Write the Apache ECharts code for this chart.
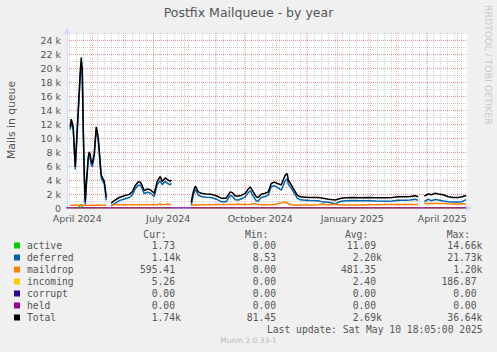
<!DOCTYPE html>
<html>
<head>
<meta charset="utf-8">
<script src="https://cdn.jsdelivr.net/npm/echarts@6/dist/echarts.min.js"></script>
<style>
html,body{margin:0;padding:0;background:#F0F0F0;}
#c{width:497px;height:352px;}
</style>
</head>
<body>
<div id="c"></div>
<script>
// ---------------- DATA ----------------
const dates = ['2024-04-06',
 '2024-04-09','2024-04-10','2024-04-11','2024-04-12','2024-04-13','2024-04-14','2024-04-17','2024-04-19','2024-04-20','2024-04-21',
 '2024-04-22','2024-04-23','2024-04-24','2024-04-25','2024-04-27','2024-04-28','2024-04-29','2024-04-30','2024-05-01','2024-05-03',
 '2024-05-05','2024-05-06','2024-05-07','2024-05-08','2024-05-09','2024-05-10','2024-05-12','2024-05-13','2024-05-14','2024-05-15',
 '2024-05-17',
 '2024-05-20','2024-05-23','2024-05-28','2024-06-02','2024-06-07','2024-06-10','2024-06-13','2024-06-16','2024-06-18','2024-06-19',
 '2024-06-22','2024-06-25','2024-06-28','2024-07-02','2024-07-05','2024-07-08','2024-07-10','2024-07-13','2024-07-15','2024-07-18',
 '2024-07-19',
 '2024-07-25',
 '2024-08-08','2024-08-10','2024-08-12','2024-08-13','2024-08-15','2024-08-18','2024-08-23','2024-08-28','2024-09-02','2024-09-07',
 '2024-09-12','2024-09-16','2024-09-18','2024-09-21','2024-09-24','2024-09-27','2024-10-01','2024-10-04','2024-10-06','2024-10-09',
 '2024-10-12','2024-10-14','2024-10-17','2024-10-21','2024-10-24','2024-10-27','2024-10-30','2024-11-02','2024-11-06','2024-11-10',
 '2024-11-12','2024-11-13','2024-11-16','2024-11-18','2024-11-22','2024-11-25','2024-11-30','2024-12-05','2024-12-13','2024-12-18',
 '2024-12-23','2024-12-30','2025-01-05','2025-01-10','2025-01-16','2025-01-24','2025-02-01','2025-02-09','2025-02-18','2025-02-25',
 '2025-03-03','2025-03-10','2025-03-15','2025-03-20','2025-03-23',
 '2025-03-26',
 '2025-03-29','2025-04-02','2025-04-05','2025-04-09','2025-04-12','2025-04-17','2025-04-22','2025-04-27','2025-05-02','2025-05-06',
 '2025-05-09','2025-05-10'];

const total = [null,
 11600,12700,12200,11500,8700,5900,14000,19500,21500,19800,
 11500,5000,900,3400,7300,8000,7600,6600,6300,7800,
 11600,11000,10000,8300,6400,4700,4100,3800,2800,1500,
 null,
 700,1050,1500,1750,1950,2300,3200,3700,3700,3500,
 2500,2700,2600,2100,3800,4500,3800,4300,4100,3800,
 4000,
 null,
 800,2300,3100,2900,2300,2100,2000,1950,1750,1400,
 1400,2300,2200,1700,1700,1800,2100,2700,3000,2300,
 1600,1500,1950,2100,2300,3500,3700,3500,3300,4700,
 4900,4000,3300,2800,1850,1600,1550,1500,1500,1400,
 1250,1150,1400,1450,1500,1450,1500,1450,1450,1500,
 1600,1600,1650,1750,1600,
 null,
 1700,2000,1900,2100,2000,1900,1600,1500,1500,1600,
 1750,1740];

const deferred = [null,
 11200,12300,11800,11100,8300,5500,13600,18750,20600,19200,
 11100,4600,500,3000,6900,7600,7200,6200,5900,7350,
 11200,10600,9600,7900,6000,4300,3700,3400,2400,1100,
 null,
 290,600,1050,1290,1500,1850,2750,3240,3250,3050,
 2050,2250,2140,1650,3340,3890,3340,3810,3540,3310,
 3540,
 null,
 360,1840,2660,2460,1860,1640,1540,1490,1260,910,
 910,1790,1690,1190,1140,1290,1590,2190,2470,1690,
 1010,990,1490,1640,1840,3040,3190,2940,2540,3890,
 4190,3390,2840,2370,1420,1170,1120,1070,1040,840,
 820,620,970,1020,1070,1020,1040,990,960,1010,
 1090,1090,1140,1240,1090,
 null,
 900,1250,1050,1200,1150,1000,900,850,850,900,
 1150,1140];

const maildrop = [null,
 400,410,400,400,390,390,400,400,390,400,
 400,390,400,400,390,400,400,400,400,400,
 400,400,400,400,400,400,400,400,400,400,
 null,
 410,450,450,460,450,450,450,460,450,450,
 450,450,460,450,460,600,460,490,560,490,
 460,
 null,
 440,460,440,440,440,460,460,460,490,490,
 490,510,510,510,560,510,510,510,530,610,
 590,510,460,460,460,460,510,560,760,810,
 710,610,460,430,430,430,430,430,460,560,
 430,530,430,430,430,430,460,460,490,490,
 510,510,510,510,510,
 null,
 650,650,650,650,650,650,600,580,580,600,
 590,595];

const active = [null,
 0,0,0,0,0,0,0,350,500,200,
 0,0,0,0,0,0,0,0,0,50,
 0,0,0,0,0,0,0,0,0,0,
 null,
 0,0,0,0,0,0,0,0,0,0,
 0,0,0,0,0,0,0,0,0,0,
 0,
 null,
 0,0,0,0,0,0,0,0,0,0,
 0,0,0,0,0,0,0,0,0,0,
 0,0,0,0,0,0,0,0,0,0,
 0,0,0,0,0,0,0,0,0,0,
 0,0,0,0,0,0,0,0,0,0,
 0,0,0,0,0,
 null,
 0,0,0,0,0,0,0,0,0,0,
 0,2];

const incoming = [null,
 0,0,0,0,0,0,0,0,0,0,
 0,0,0,0,0,0,0,0,0,0,
 0,0,0,0,0,0,0,0,0,0,
 null,
 0,0,0,0,0,0,0,0,0,0,
 0,0,0,0,0,0,0,0,0,0,
 0,
 null,
 0,0,0,0,0,0,0,0,0,0,
 0,0,0,0,0,0,0,0,0,0,
 0,0,0,0,0,0,0,0,0,0,
 0,0,0,0,0,0,0,0,0,0,
 0,0,0,0,0,0,0,0,0,0,
 0,0,0,0,0,
 null,
 0,0,0,0,0,0,0,0,0,0,
 0,5];

// corrupt and held are flat at zero over the whole period
const zeroDates = ['2024-04-05','2024-07-01','2024-10-01','2025-01-01','2025-04-01','2025-05-10'];
const corrupt = [0,0,0,0,0,0];
const held = [0,0,0,0,0,0];

// axis ticks / labels
const xLabelDates = ['2024-04-16','2024-07-16','2024-10-16','2025-01-16','2025-04-16'];
const xLabels = ['April 2024','July 2024','October 2024','January 2025','April 2025'];
const monthStarts = ['2024-05-01','2024-06-01','2024-07-01','2024-08-01','2024-09-01','2024-10-01','2024-11-01',
 '2024-12-01','2025-01-01','2025-02-01','2025-03-01','2025-04-01','2025-05-01'];
const firstMonday = '2024-04-08';
const yTicks = [0,2000,4000,6000,8000,10000,12000,14000,16000,18000,20000,22000,24000];
const yTickLabels = ['0','2 k','4 k','6 k','8 k','10 k','12 k','14 k','16 k','18 k','20 k','22 k','24 k'];

// legend / stats
const legendNames = ['active','deferred','maildrop','incoming','corrupt','held','Total'];
const seriesColors = ['#00CC00','#0066B3','#FF8000','#FFCC00','#330099','#990099','#000000'];
const statHeaders = ['Cur:','Min:','Avg:','Max:'];
const statCur = ['1.73','1.14k','595.41','5.26','0.00','0.00','1.74k'];
const statMin = ['0.00','8.53','0.00','0.00','0.00','0.00','81.45'];
const statAvg = ['11.09','2.20k','481.35','2.40','0.00','0.00','2.69k'];
const statMax = ['14.66k','21.73k','1.20k','186.87','0.00','0.00','36.64k'];
const titleText = 'Postfix Mailqueue - by year';
const yAxisTitle = 'Mails in queue';
const lastUpdate = 'Last update: Sat May 10 18:05:00 2025';
const versionText = 'Munin 2.0.33-1';
const sideText = 'RRDTOOL / TOBI OETIKER';

// ---------------- BUILD ----------------
function ts(s){ const p = s.split('-').map(Number); return Date.UTC(p[0], p[1]-1, p[2]); }
const tMin = Date.UTC(2024,3,5,18,5);
const tMax = Date.UTC(2025,4,10,18,5);

const weekTicks = [];
for (let t = ts(firstMonday); t < tMax; t += 7*86400000) weekTicks.push(t);

function pairs(ds, vals){ return ds.map((d,i)=>[ts(d), vals[i]==null ? '-' : vals[i]]); }

const FONT = 'DejaVu Sans';
const MONO = 'DejaVu Sans Mono';
const TXT = '#555555';
const AXIS = '#CFD6F8';
const MINOR = 'rgba(130,130,130,0.35)';
const MAJOR = 'rgba(255,0,0,0.3)';

const seriesVals = [active, deferred, maildrop, incoming, corrupt, held, total];
const series = legendNames.map((n,i)=>{
  const isZero = (n==='corrupt' || n==='held');
  return {
    name: n, type:'line', xAxisIndex:0, yAxisIndex:0,
    data: isZero ? pairs(zeroDates, seriesVals[i]) : pairs(dates, seriesVals[i]),
    showSymbol:false, symbol:'none', connectNulls:false,
    lineStyle:{color:seriesColors[i], width: isZero ? 1 : 1.5},
    itemStyle:{color:seriesColors[i]},
    emphasis:{disabled:true}, silent:true, z: 3 + i
  };
});

// legend graphic
const g = [];
const rowY0 = 245.5, rowStep = 12;
const headerRight = [166.7, 268.3, 368.3, 470];
const colNumEnd = [175, 276, 376, 476.5];
const legendFont = '9.7px "' + MONO + '"';
statHeaders.forEach((h,j)=>{
  g.push({type:'text', x:headerRight[j], y:234, silent:true,
    style:{text:h, font:legendFont, fill:TXT, textAlign:'right', textVerticalAlign:'middle'}});
});
const stats = [statCur, statMin, statAvg, statMax];
legendNames.forEach((n,i)=>{
  const y = rowY0 + rowStep*i;
  g.push({type:'rect', x:14, y:y-3, shape:{x:0,y:0,width:6,height:6}, silent:true, style:{fill:seriesColors[i]}});
  g.push({type:'text', x:27, y:y, silent:true, style:{text:n, font:legendFont, fill:TXT, textAlign:'left', textVerticalAlign:'middle'}});
  stats.forEach((arr,j)=>{
    const s = arr[i];
    const hasUnit = /[kM]$/.test(s);
    const num = hasUnit ? s.slice(0,-1) : s;
    g.push({type:'text', x:colNumEnd[j], y:y, silent:true, style:{text:num, font:legendFont, fill:TXT, textAlign:'right', textVerticalAlign:'middle'}});
    if (hasUnit) g.push({type:'text', x:colNumEnd[j], y:y, silent:true, style:{text:s.slice(-1), font:legendFont, fill:TXT, textAlign:'left', textVerticalAlign:'middle'}});
  });
});
g.push({type:'text', x:482.7, y:329.3, silent:true, style:{text:lastUpdate, font:legendFont, fill:TXT, textAlign:'right', textVerticalAlign:'middle'}});
g.push({type:'text', x:248.5, y:340.7, silent:true, style:{text:versionText, font:'7.5px "'+FONT+'"', fill:'#BBBBBB', textAlign:'center', textVerticalAlign:'middle'}});
g.push({type:'text', x:488.5, y:5, rotation:-Math.PI/2, silent:true, style:{text:sideText, font:'9.3px "'+FONT+'"', fill:'#C8C8C8', textAlign:'left', textVerticalAlign:'middle'}});
g.push({type:'text', x:11, y:120, rotation:Math.PI/2, silent:true, style:{text:yAxisTitle, font:'10.8px "'+FONT+'"', fill:TXT, textAlign:'center', textVerticalAlign:'middle'}});

const xLabelTs = xLabelDates.map(ts);
const baseX = {type:'value', min:tMin, max:tMax, gridIndex:0, scale:true};

const option = {
  animation:false,
  backgroundColor:'#F0F0F0',
  title:{text:titleText, left:'center', top:6, padding:0,
    textStyle:{fontFamily:FONT, fontSize:12.5, fontWeight:'normal', color:TXT}},
  grid:{left:67, top:33, width:400, height:175, show:true, backgroundColor:'#FFFFFF', borderWidth:0, containLabel:false, outerBoundsMode:'none'},
  tooltip:{show:false},
  legend:{show:false},
  xAxis:[
    Object.assign({}, baseX, {
      axisLine:{show:true, onZero:false, lineStyle:{color:AXIS, width:1}, symbol:['none','arrow'], symbolSize:[6,7], symbolOffset:[0,5]},
      axisTick:{show:false, customValues:xLabelTs},
      splitLine:{show:false},
      axisLabel:{customValues:xLabelTs, margin:5, color:TXT, fontFamily:FONT, fontSize:9.5,
        formatter:(v)=>{ const k = xLabelTs.indexOf(v); return k>=0 ? xLabels[k] : ''; }},
      z:5
    }),
    Object.assign({}, baseX, {
      axisLine:{show:false}, axisLabel:{show:false},
      axisTick:{show:false, customValues:weekTicks},
      splitLine:{show:true, lineStyle:{color:MINOR, width:1, type:[1,1]}}
    }),
    Object.assign({}, baseX, {
      axisLine:{show:false}, axisLabel:{show:false},
      axisTick:{show:false, customValues:monthStarts.map(ts)},
      splitLine:{show:true, lineStyle:{color:MAJOR, width:1, type:[1,1]}}
    })
  ],
  yAxis:[
    {type:'value', min:0, max:25000, gridIndex:0,
      axisLine:{show:true, lineStyle:{color:AXIS, width:1}, symbol:['none','arrow'], symbolSize:[6,7], symbolOffset:[0,5]},
      axisTick:{show:false, customValues:yTicks},
      axisLabel:{customValues:yTicks, margin:6, color:TXT, fontFamily:FONT, fontSize:9.5,
        formatter:(v)=>{ const k = yTicks.indexOf(v); return k>=0 ? yTickLabels[k] : ''; }},
      splitLine:{show:true, lineStyle:{color:MAJOR, width:1, type:[1,1]}},
      z:5
    },
    {type:'value', min:0, max:25000, interval:1000, gridIndex:0,
      axisLine:{show:false}, axisTick:{show:false}, axisLabel:{show:false},
      splitLine:{show:true, lineStyle:{color:MINOR, width:1, type:[1,1]}}
    }
  ],
  graphic:{elements:g},
  series: series
};

const chart = echarts.init(document.getElementById('c'), null, {renderer:'svg', width:497, height:352});
chart.setOption(option);
</script>
</body>
</html>
